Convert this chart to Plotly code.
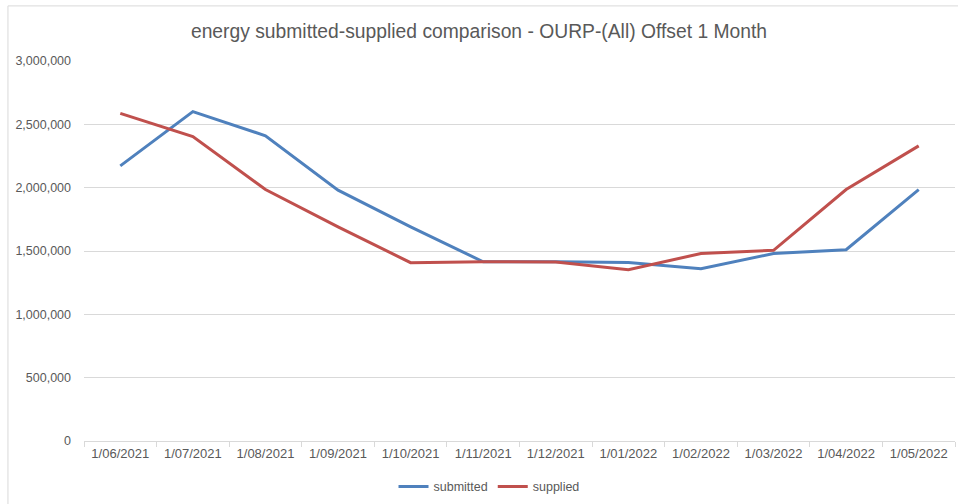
import plotly.graph_objects as go

categories = ["1/06/2021", "1/07/2021", "1/08/2021", "1/09/2021", "1/10/2021", "1/11/2021",
              "1/12/2021", "1/01/2022", "1/02/2022", "1/03/2022", "1/04/2022", "1/05/2022"]
submitted = [2172000, 2600000, 2410000, 1980000, 1690000, 1415000,
             1415000, 1410000, 1360000, 1480000, 1510000, 1985000]
supplied = [2586000, 2403000, 1985000, 1690000, 1408000, 1415000,
            1413000, 1353000, 1480000, 1505000, 1985000, 2330000]
y_ticks = [0, 500000, 1000000, 1500000, 2000000, 2500000, 3000000]
y_labels = ["0", "500,000", "1,000,000", "1,500,000", "2,000,000", "2,500,000", "3,000,000"]

font_family = "Liberation Sans, Arial"

fig = go.Figure()
fig.add_trace(go.Scatter(x=categories, y=submitted, name="submitted", mode="lines",
                         line=dict(color="#4F81BD", width=3)))
fig.add_trace(go.Scatter(x=categories, y=supplied, name="supplied", mode="lines",
                         line=dict(color="#C0504D", width=3)))

fig.update_layout(
    width=958, height=504,
    margin=dict(l=84, r=3, t=61, b=63, autoexpand=False),
    paper_bgcolor="white", plot_bgcolor="white",
    title=dict(text="energy submitted-supplied comparison - OURP-(All) Offset 1 Month",
               x=0.5, xanchor="center", y=0.938, yanchor="middle",
               font=dict(family=font_family, size=19.3, color="#595959")),
    font=dict(family=font_family, size=12, color="#595959"),
    showlegend=True,
    legend=dict(orientation="h", x=0.465, xanchor="center", y=-0.121, yanchor="middle",
                font=dict(size=12.5, color="#595959"), traceorder="normal"),
    xaxis=dict(type="category", range=[-0.5, 11.5], showgrid=False, showline=True,
               linecolor="#D9D9D9", linewidth=1,
               ticks="outside", tickson="boundaries", ticklen=5, tickcolor="#D9D9D9",
               tickfont=dict(size=13, color="#595959"), fixedrange=True),
    yaxis=dict(range=[0, 3000000], tickvals=y_ticks, ticktext=y_labels, showgrid=True,
               gridcolor="#D9D9D9", gridwidth=1, zeroline=False, showline=False,
               ticks="", tickfont=dict(size=12.5, color="#595959"), ticklabelstandoff=12),
)
fig.add_shape(type="rect", xref="paper", yref="paper", x0=-0.0873, x1=1.01, y0=-0.2, y1=1.145,
              line=dict(color="#D9D9D9", width=1), layer="below")
fig.write_html("out.html", config={"displayModeBar": False},
               post_script="document.body.style.margin='0';document.body.style.overflow='hidden';")
